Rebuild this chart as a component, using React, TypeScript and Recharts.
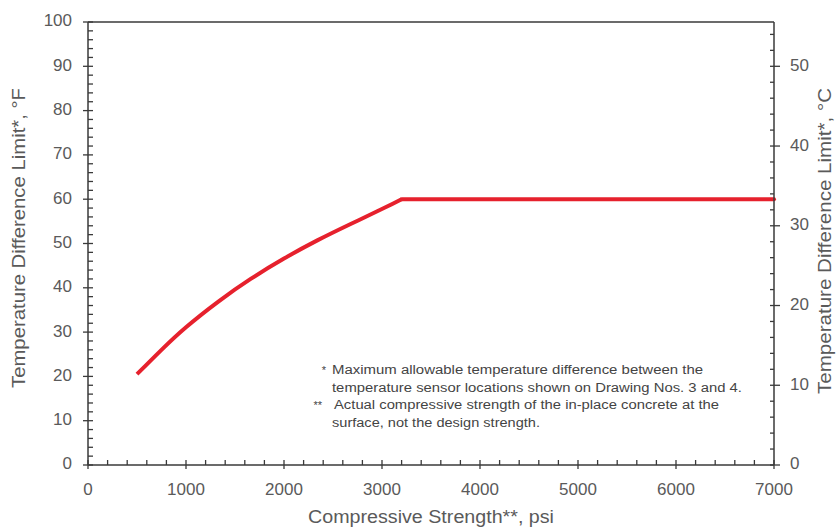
import React from 'react';
import {
  LineChart,
  Line,
  XAxis,
  YAxis,
  ReferenceLine,
  Customized,
} from 'recharts';

// values
const curvePsi = [500, 750, 1000, 1330, 1660, 2000, 2340, 2680, 3020, 3200];
const curveF = [20.5, 26.0, 31.1, 36.9, 42.0, 46.6, 50.7, 54.4, 58.0, 60];
const plateauPsi = [3200, 7000];
const plateauF = [60, 60];

const xTicks = Array.from({ length: 36 }, (_, i) => i * 200);
const yTicksF = Array.from({ length: 51 }, (_, i) => i * 2);
const yTicksC = Array.from({ length: 28 }, (_, i) => i * 2);

const notes = [
  { mark: '*', text: 'Maximum allowable temperature difference between the', width: 371 },
  { mark: '', text: 'temperature sensor locations shown on Drawing Nos. 3 and 4.', width: 410 },
  { mark: '**', text: 'Actual compressive strength of the in-place concrete at the', width: 385 },
  { mark: '', text: 'surface, not the design strength.', width: 208 },
];

const data = [
  ...curvePsi.map((psi, i) => ({ psi, f: curveF[i], p: psi === plateauPsi[0] ? plateauF[0] : undefined })),
  { psi: plateauPsi[1], p: plateauF[1] },
];

const FONT = '"Liberation Sans", Arial, sans-serif';
const AXIS = '#3a3a3a';
const LABEL = '#5a5a5a';
const RED = '#e6212d';

const BottomTick = (props: any) => {
  const { x, y, payload } = props;
  const v = payload.value;
  const major = v % 1000 === 0;
  return (
    <g>
      <line x1={x} x2={x} y1={y - 5} y2={major ? y + 4 : y} stroke={AXIS} strokeWidth={1.3} />
      {major && (
        <text x={x} y={y + 26} textAnchor="middle" dominantBaseline="middle" fontSize={17} fill={LABEL} fontFamily={FONT}>
          {v}
        </text>
      )}
    </g>
  );
};

const LeftTick = (props: any) => {
  const { x, y, payload } = props;
  const v = payload.value;
  const major = v % 10 === 0;
  return (
    <g>
      <line x1={major ? x - 5 : x} x2={x + 5} y1={y} y2={y} stroke={AXIS} strokeWidth={1.3} />
      {major && (
        <text x={x - 16} y={y} textAnchor="end" dominantBaseline="middle" fontSize={17} fill={LABEL} fontFamily={FONT}>
          {v}
        </text>
      )}
    </g>
  );
};

const RightTick = (props: any) => {
  const { x, y, payload } = props;
  const v = payload.value;
  const major = v % 10 === 0;
  return (
    <g>
      <line x1={x - 4} x2={major ? x + 6 : x} y1={y} y2={y} stroke={AXIS} strokeWidth={1.3} />
      {major && (
        <text x={x + 16} y={y} textAnchor="start" dominantBaseline="middle" fontSize={17} fill={LABEL} fontFamily={FONT}>
          {v}
        </text>
      )}
    </g>
  );
};

const Texts = () => (
  <g fontFamily={FONT}>
    <text x={20} y={238} transform="rotate(-90 20 238)" textAnchor="middle" dominantBaseline="middle" fontSize={19} fill={LABEL} textLength={300} lengthAdjust="spacingAndGlyphs">
      Temperature Difference Limit*, °F
    </text>
    <text x={826} y={241} transform="rotate(-90 826 241)" textAnchor="middle" dominantBaseline="middle" fontSize={19} fill={LABEL} textLength={306} lengthAdjust="spacingAndGlyphs">
      Temperature Difference Limit*, °C
    </text>
    <text x={431} y={518} textAnchor="middle" dominantBaseline="middle" fontSize={18} fill={LABEL} textLength={246} lengthAdjust="spacingAndGlyphs">
      Compressive Strength**, psi
    </text>
    {notes.map((n, i) => {
      const y = 371 + i * 17.5;
      return (
        <g key={i}>
          {n.mark && (
            <text x={n.mark === '*' ? 326 : 322} y={y} textAnchor="end" dominantBaseline="middle" fontSize={11} fill="#444">
              {n.mark}
            </text>
          )}
          <text x={i === 2 ? 334 : 332} y={y} dominantBaseline="middle" fontSize={12} fill="#444" textLength={n.width} lengthAdjust="spacingAndGlyphs">
            {n.text}
          </text>
        </g>
      );
    })}
  </g>
);

export default function App() {
  return (
    <div style={{ position: 'absolute', left: 0, top: 0, width: 836, height: 527, background: '#fff' }}>
      <LineChart width={836} height={527} data={data} margin={{ top: 22, right: 0, bottom: 0, left: 0 }}>
        <XAxis
          dataKey="psi"
          type="number"
          domain={[0, 7000]}
          ticks={xTicks}
          interval={0}
          minTickGap={0}
          height={62}
          tickSize={0}
          tickMargin={0}
          tickLine={false}
          axisLine={{ stroke: AXIS, strokeWidth: 1.5 }}
          tick={(p: any) => <BottomTick {...p} />}
        />
        <YAxis
          yAxisId="f"
          type="number"
          domain={[0, 100]}
          ticks={yTicksF}
          interval={0}
          minTickGap={0}
          width={88}
          tickSize={0}
          tickMargin={0}
          tickLine={false}
          axisLine={{ stroke: AXIS, strokeWidth: 1.5 }}
          tick={(p: any) => <LeftTick {...p} />}
        />
        <YAxis
          yAxisId="c"
          orientation="right"
          type="number"
          domain={[0, 100 / 1.8]}
          allowDataOverflow
          ticks={yTicksC}
          interval={0}
          minTickGap={0}
          width={62}
          tickSize={0}
          tickMargin={0}
          tickLine={false}
          axisLine={{ stroke: AXIS, strokeWidth: 1.5 }}
          tick={(p: any) => <RightTick {...p} />}
        />
        <ReferenceLine yAxisId="f" y={100} stroke={AXIS} strokeWidth={1.5} />
        <Line
          yAxisId="f"
          type="natural"
          dataKey="f"
          stroke={RED}
          strokeWidth={4}
          dot={false}
          isAnimationActive={false}
        />
        <Line
          yAxisId="f"
          type="linear"
          dataKey="p"
          stroke={RED}
          strokeWidth={4}
          strokeLinecap="round"
          dot={false}
          connectNulls
          isAnimationActive={false}
        />
        <Customized component={Texts} />
      </LineChart>
    </div>
  );
}
